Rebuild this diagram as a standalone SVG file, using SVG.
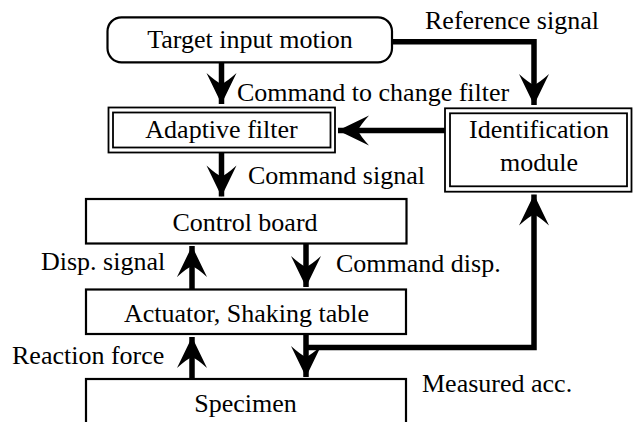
<svg xmlns="http://www.w3.org/2000/svg" width="633" height="422" viewBox="0 0 633 422">
  <style>
    .box { fill: #fff; stroke: #000; stroke-width: 2.2; }
    .thin { fill: none; stroke: #000; stroke-width: 1.8; }
    .wire { fill: none; stroke: #000; stroke-width: 5.5; stroke-linejoin: miter; }
    .lbl { font-family: "Liberation Serif", "Times New Roman", serif; font-size: 26px; fill: #000; }
    .mid { text-anchor: middle; }
  </style>
  <defs>
    <marker id="head" markerUnits="userSpaceOnUse" viewBox="-32 -16 34 32" refX="0" refY="0" markerWidth="34" markerHeight="32" orient="auto">
      <path d="M0,0 L-31,-15 Q-22,-5 -20,0 Q-22,5 -31,15 Z" fill="#000"/>
    </marker>
  </defs>

  <rect width="633" height="422" fill="#fff"/>

  <!-- connectors -->
  <g id="connectors">
    <path class="wire" d="M221.5,62 V104" marker-end="url(#head)"/>
    <path class="wire" d="M392,41.7 H534 V105" marker-end="url(#head)"/>
    <path class="wire" d="M445,130.5 H338" marker-end="url(#head)"/>
    <path class="wire" d="M221.5,152 V196.5" marker-end="url(#head)"/>
    <path class="wire" d="M192,290 V246" marker-end="url(#head)"/>
    <path class="wire" d="M306,243 V287" marker-end="url(#head)"/>
    <path class="wire" d="M192,379 V337" marker-end="url(#head)"/>
    <path class="wire" d="M306,334 V377" marker-end="url(#head)"/>
    <path class="wire" d="M306,347.5 H534 V194.5" marker-end="url(#head)"/>
  </g>

  <!-- nodes -->
  <g id="target">
    <rect class="box" x="107.5" y="17.3" width="284.5" height="45" rx="14" ry="14"/>
    <text class="lbl mid" x="250" y="47.5">Target input motion</text>
  </g>

  <g id="adaptive-filter">
    <rect class="thin" x="108.5" y="107.5" width="226.5" height="45"/>
    <rect class="thin" x="113" y="112.5" width="217.5" height="35"/>
    <text class="lbl mid" x="221.5" y="138">Adaptive filter</text>
  </g>

  <g id="identification">
    <rect class="thin" x="445" y="108.3" width="186.5" height="83.4"/>
    <rect class="thin" x="450" y="113.3" width="177" height="73"/>
    <text class="lbl mid" x="539" y="138">Identification</text>
    <text class="lbl mid" x="539" y="171">module</text>
  </g>

  <g id="control-board">
    <rect class="box" x="86" y="199" width="320.5" height="44.5"/>
    <text class="lbl mid" x="245" y="230.5">Control board</text>
  </g>

  <g id="actuator">
    <rect class="box" x="86" y="289.5" width="320" height="44.5"/>
    <text class="lbl mid" x="246.5" y="321.5">Actuator, Shaking table</text>
  </g>

  <g id="specimen">
    <rect class="box" x="86" y="379" width="320" height="60"/>
    <text class="lbl mid" x="245.5" y="411.5">Specimen</text>
  </g>

  <!-- connector labels -->
  <g id="labels">
    <text class="lbl" x="425" y="28.5">Reference signal</text>
    <text class="lbl" x="237" y="101">Command to change filter</text>
    <text class="lbl" x="248" y="184">Command signal</text>
    <text class="lbl" x="41" y="270">Disp. signal</text>
    <text class="lbl" x="336" y="272">Command disp.</text>
    <text class="lbl" x="12" y="364">Reaction force</text>
    <text class="lbl" x="422" y="392">Measured acc.</text>
  </g>
</svg>
